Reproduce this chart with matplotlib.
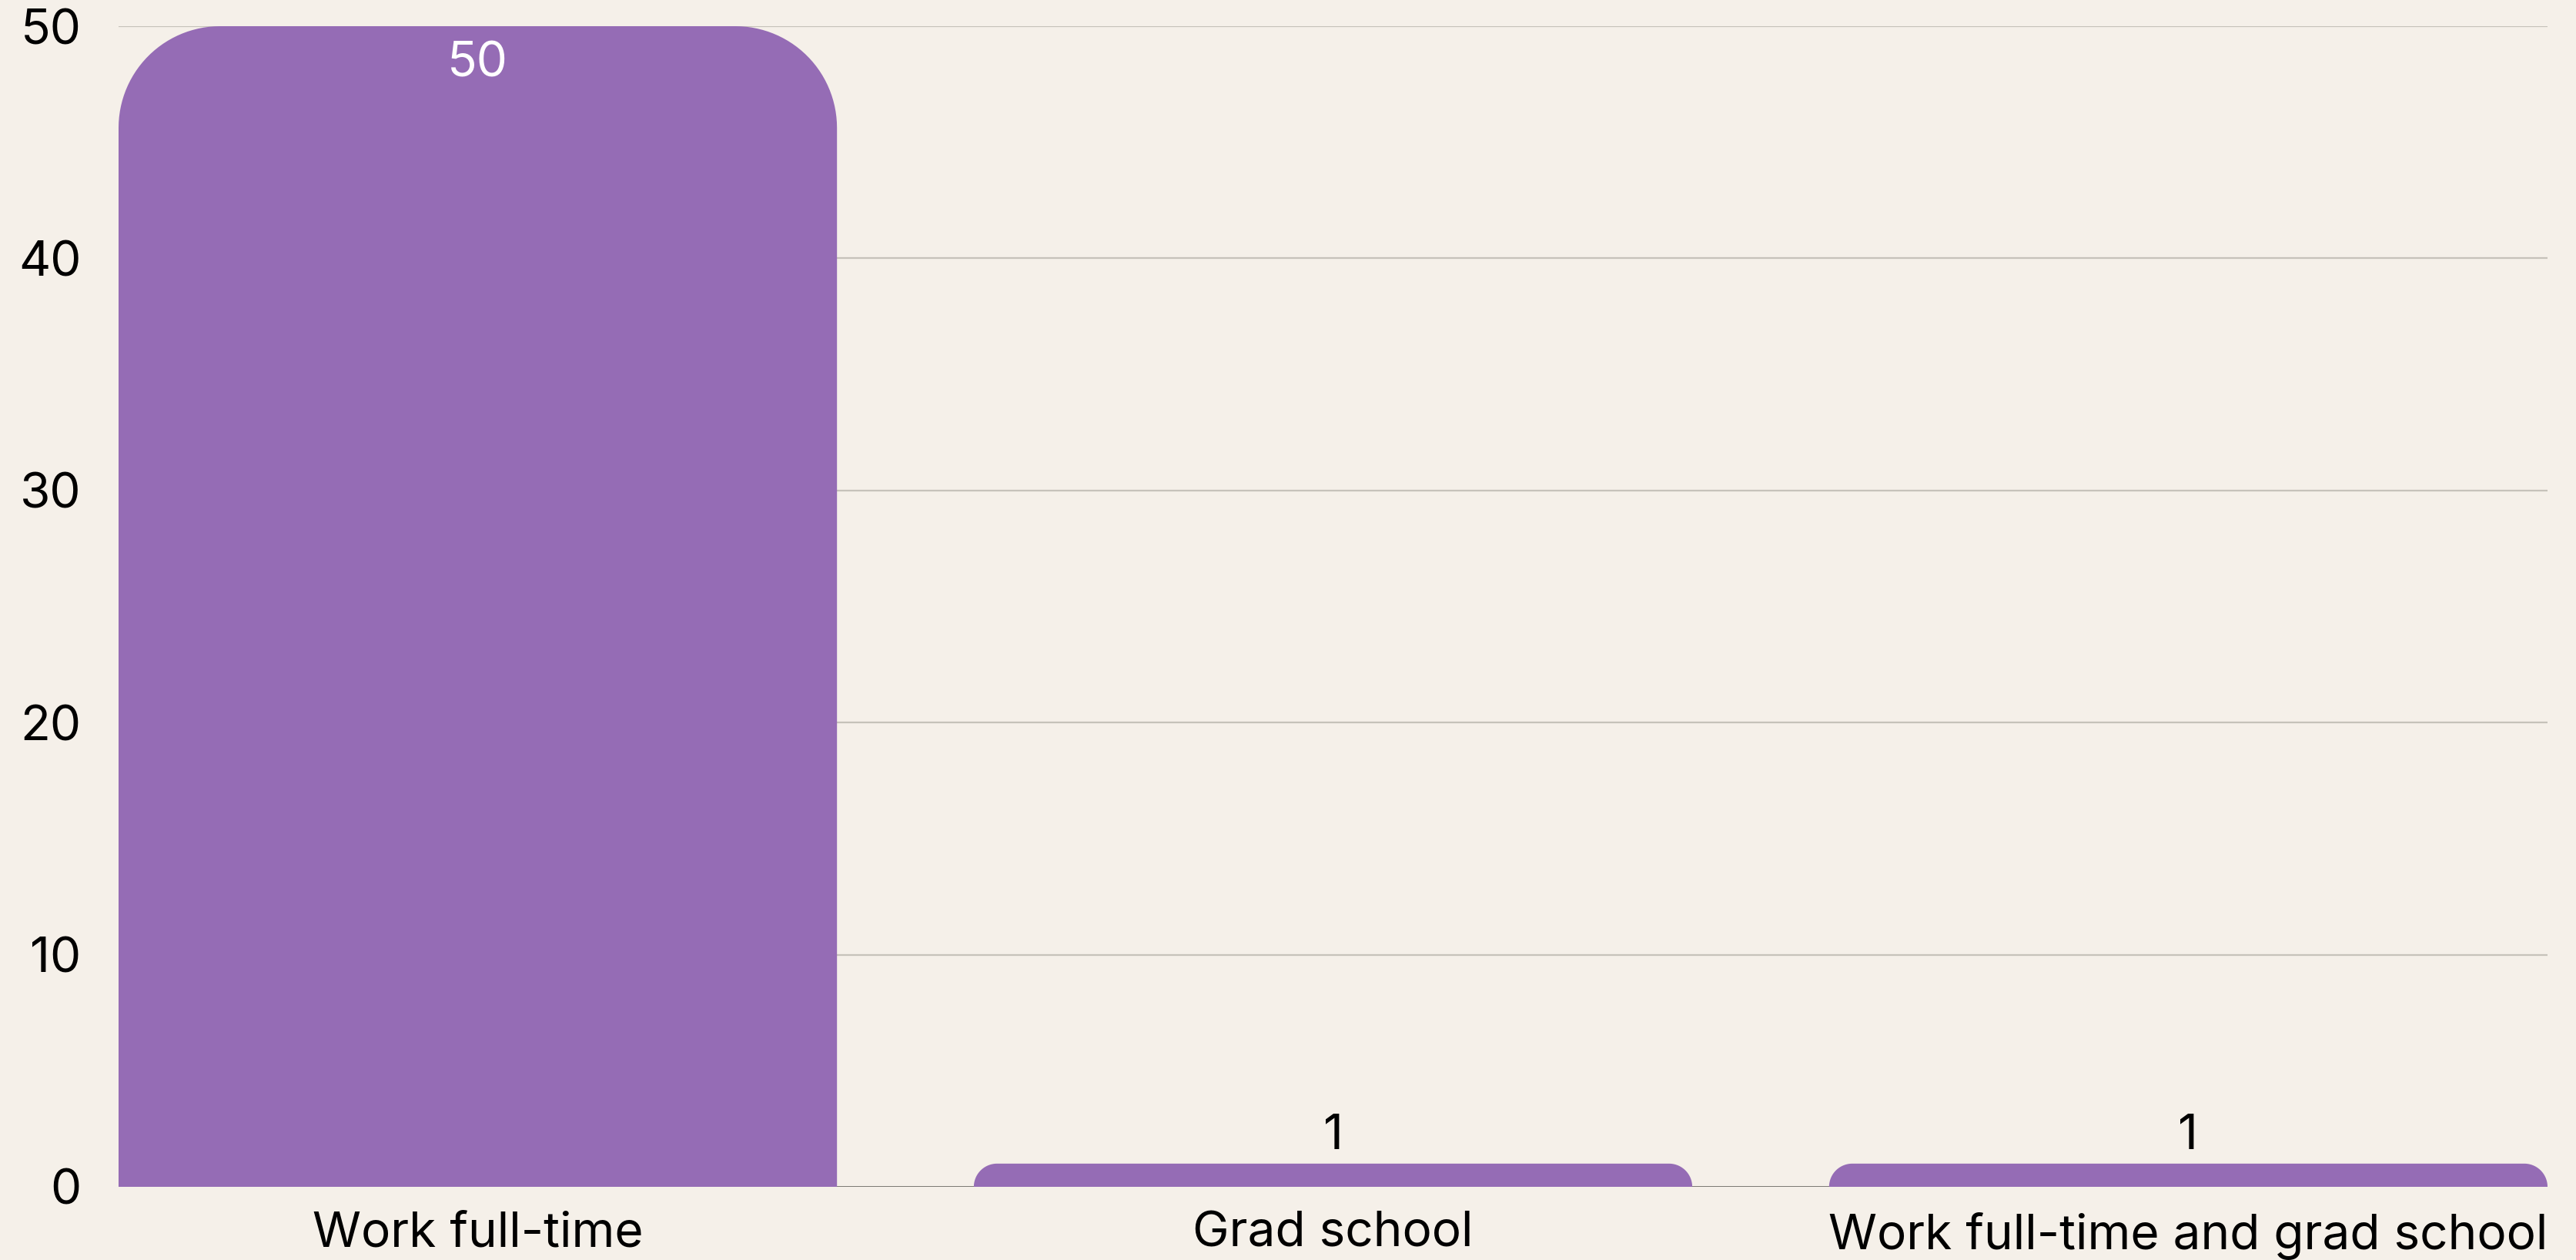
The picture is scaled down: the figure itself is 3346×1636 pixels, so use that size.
import numpy as np
import matplotlib
matplotlib.use("Agg")
import matplotlib.pyplot as plt
from matplotlib.patches import PathPatch
from matplotlib.path import Path

plt.rcParams['font.family'] = ['Inter', 'DejaVu Sans']

# Survey answers
categories = ['Work full-time', 'Grad school', 'Work full-time and grad school']
counts = [50, 1, 1]
y_ticks = [0, 10, 20, 30, 40, 50]

bg = '#f5f0e9'
bar_color = '#956cb5'
grid_color = '#c6c2ba'
base_color = '#6f6d68'

W, H, DPI = 3346, 1636, 100
fig = plt.figure(figsize=(W / DPI, H / DPI), dpi=DPI, facecolor=bg)
ax_l, ax_r, ax_b, ax_t = 154, 3309, 1541, 34
ax = fig.add_axes([ax_l / W, (H - ax_b) / H, (ax_r - ax_l) / W, (ax_b - ax_t) / H])
ax.set_facecolor(bg)

bar_w = 0.84
x = np.arange(len(categories))
ax.set_xlim(-bar_w / 2, len(categories) - 1 + bar_w / 2)
ax.set_ylim(0, 50)

# pixel size of one data unit, used to keep the corners circular
px_x = (ax_r - ax_l) / (ax.get_xlim()[1] - ax.get_xlim()[0])
px_y = (ax_b - ax_t) / (ax.get_ylim()[1] - ax.get_ylim()[0])
radius_px = 132


def rounded_top_bar(xc, h):
    r = min(radius_px, h * px_y)
    rx, ry = r / px_x, r / px_y
    x0, x1 = xc - bar_w / 2, xc + bar_w / 2
    t = np.linspace(0, np.pi / 2, 30)
    left = np.column_stack([x0 + rx - rx * np.cos(t), h - ry + ry * np.sin(t)])
    right = np.column_stack([x1 - rx + rx * np.sin(t), h - ry + ry * np.cos(t)])
    pts = np.vstack([[x0, 0], left, right, [x1, 0], [x0, 0]])
    codes = [Path.MOVETO] + [Path.LINETO] * (len(pts) - 2) + [Path.CLOSEPOLY]
    return PathPatch(Path(pts, codes), facecolor=bar_color, edgecolor='none', zorder=3)


for xi, v in zip(x, counts):
    ax.add_patch(rounded_top_bar(xi, v))
    if v * px_y > 120:
        ax.annotate(str(v), (xi, v), xytext=(0, -47), textcoords='offset points',
                    ha='center', va='baseline', color='white', fontsize=46, zorder=4)
    else:
        ax.annotate(str(v), (xi, v), xytext=(0, 13.5), textcoords='offset points',
                    ha='center', va='baseline', color='black', fontsize=46, zorder=4)

for yv in y_ticks[1:]:
    ax.axhline(yv, color=grid_color, lw=1.6, zorder=1)
ax.axhline(0, color=base_color, lw=2, zorder=2)

ax.set_yticks(y_ticks)
ax.set_xticks(x)
ax.set_xticklabels(categories)
ax.tick_params(axis='both', length=0, labelsize=46, colors='black')
ax.tick_params(axis='y', pad=35)
ax.tick_params(axis='x', pad=23)
for s in ax.spines.values():
    s.set_visible(False)

fig.savefig('out.png', dpi=DPI, facecolor=bg)
